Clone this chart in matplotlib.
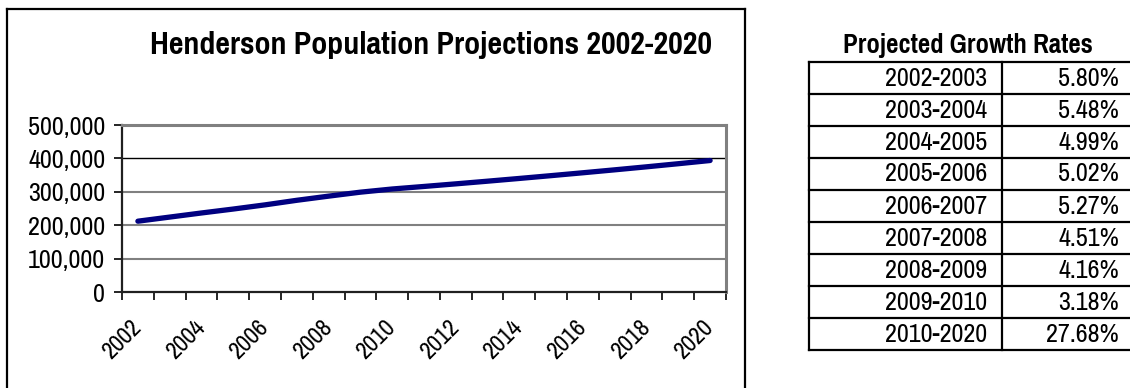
import matplotlib
matplotlib.use("Agg")
import matplotlib.pyplot as plt
from matplotlib.lines import Line2D
from matplotlib.ticker import FuncFormatter, FixedLocator

plt.rcParams['font.family'] = ['Pragati Narrow', 'DejaVu Sans']

# Population projection, one value per year
years = list(range(2002, 2021))
population = [212000, 224300, 236600, 248400, 260900, 274600, 287000, 298900,
              308400, 316000, 323800, 331800, 340000, 348400, 357000, 365800,
              374800, 384100, 393700]

# Growth-rate table
periods = ["2002-2003", "2003-2004", "2004-2005", "2005-2006", "2006-2007",
           "2007-2008", "2008-2009", "2009-2010", "2010-2020"]
rates = ["5.80%", "5.48%", "4.99%", "5.02%", "5.27%",
         "4.51%", "4.16%", "3.18%", "27.68%"]

y_ticks = [0, 100000, 200000, 300000, 400000, 500000]

W, H = 1130, 388
fig = plt.figure(figsize=(W / 100, H / 100), dpi=100)
fig.patch.set_facecolor("white")


def fx(px):
    return px / W


def fy(py):
    return 1 - py / H


# Chart frame
for xs, ys in [((7, 7), (9, 400)), ((7, 745), (9, 9)), ((745, 745), (9, 400))]:
    fig.add_artist(Line2D([fx(x) for x in xs], [fy(y) for y in ys],
                          color="black", lw=1.6, transform=fig.transFigure))

fig.text(fx(431), fy(45), "Henderson Population Projections 2002-2020",
         ha="center", va="center", fontsize=25, fontweight="bold")

ax = fig.add_axes([fx(122), fy(292), fx(726) - fx(122), fy(125) - fy(292)])
n = len(years)
xpos = [i + 0.5 for i in range(n)]
ax.plot(xpos, population, color="#000080", lw=3.8, solid_capstyle="round")
ax.set_xlim(0, n)
ax.set_ylim(0, 500000)

ax.set_yticks(y_ticks)
ax.yaxis.set_major_formatter(FuncFormatter(lambda v, p: f"{int(v):,}"))
for v in y_ticks[1:-1]:
    ax.axhline(v, color="black" if v == 400000 else "#808080",
               lw=1.0 if v == 400000 else 1.5, zorder=0)

ax.xaxis.set_major_locator(FixedLocator(range(n + 1)))
ax.xaxis.set_major_formatter(FuncFormatter(lambda v, p: ""))
label_pos = [xpos[i] for i in range(0, n, 2)]
ax.xaxis.set_minor_locator(FixedLocator(label_pos))
ax.set_xticklabels([str(years[i]) for i in range(0, n, 2)], minor=True,
                   rotation=45, ha="right", va="center", rotation_mode="anchor")

ax.tick_params(axis="x", which="major", length=6, width=1.2, color="black",
               direction="out")
ax.tick_params(axis="x", which="minor", length=0, pad=23, labelsize=19)
ax.tick_params(axis="y", length=6, width=1.2, color="black", labelsize=20.5,
               pad=6)

for side in ("top", "right"):
    ax.spines[side].set_color("#808080")
    ax.spines[side].set_linewidth(2.2)
for side in ("left", "bottom"):
    ax.spines[side].set_color("#202020")
    ax.spines[side].set_linewidth(1.6)

# Growth-rate table
fig.text(fx(968), fy(45), "Projected Growth Rates", ha="center", va="center",
         fontsize=21, fontweight="bold")
t_left, t_mid, t_right = 809, 1002, 1140
t_top, row_h = 62, 32
rows = len(periods)
t_bottom = t_top + rows * row_h
for i in range(rows + 1):
    y = t_top + i * row_h
    fig.add_artist(Line2D([fx(t_left), fx(t_right)], [fy(y), fy(y)],
                          color="black", lw=1.6, transform=fig.transFigure))
for x in (t_left, t_mid):
    fig.add_artist(Line2D([fx(x), fx(x)], [fy(t_top), fy(t_bottom)],
                          color="black", lw=1.6, transform=fig.transFigure))
for i, (p, r) in enumerate(zip(periods, rates)):
    yc = t_top + (i + 0.5) * row_h
    fig.text(fx(987), fy(yc), p, ha="right", va="center", fontsize=20.5)
    fig.text(fx(1119), fy(yc), r, ha="right", va="center", fontsize=20.5)

fig.savefig("out.png", dpi=100, facecolor="white")
